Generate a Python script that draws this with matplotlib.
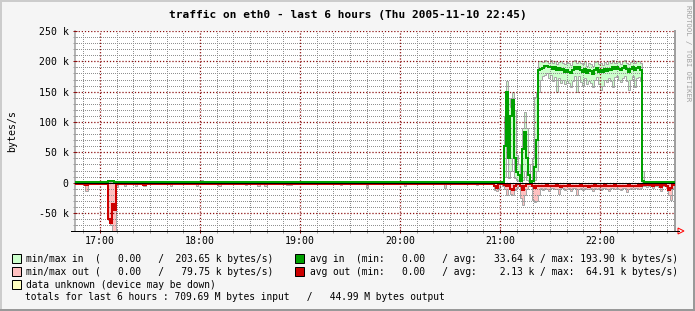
import matplotlib
matplotlib.use('Agg')
import matplotlib.pyplot as plt
import numpy as np
from matplotlib.patches import Rectangle, Polygon
from matplotlib.lines import Line2D
from matplotlib.ticker import FixedLocator, FixedFormatter

plt.rcParams['font.family'] = 'DejaVu Sans Mono'
plt.rcParams['axes.unicode_minus'] = False

# ---- data (time in hours, rates in k bytes/s) ----
# quiet part 16:45 - 20:56 : breakpoints
quiet_t = [16.75, 16.85, 16.88, 17.08, 17.10, 17.12, 17.14, 17.16, 17.18, 17.24,
           17.26, 17.35, 17.37, 17.43, 17.46, 17.70, 17.72, 17.96, 17.98, 18.00,
           18.03, 18.18, 18.21, 18.45, 18.47, 18.57, 18.60, 18.64, 18.67, 18.86,
           18.92, 19.40, 19.42, 19.66, 19.68, 20.04, 20.06, 20.44, 20.46, 20.76,
           20.78]
quiet_in_avg = [1.5, 1.5, 1.5, 3, 3, 2, 1.5, 1.5, 1.5, 1.5,
                1.5, 1.5, 1.5, 1.5, 1.5, 1.5, 1.5, 1.5, 1.5, 1.5,
                1.5, 1.5, 1.5, 1.5, 1.5, 1.5, 1.5, 1.5, 1.5, 1.5,
                1.5, 1.5, 1.5, 1.5, 1.5, 1.5, 1.5, 1.5, 1.5, 1.5,
                1.5]
quiet_in_max = [2.5, 2.5, 2.5, 4, 5, 4, 2.5, 2.5, 2.5, 2.5,
                2.5, 2.5, 2.5, 2.5, 2.5, 2.5, 2.5, 2.5, 2.5, 4,
                2.5, 2.5, 2.5, 2.5, 2.5, 2.5, 2.5, 2.5, 2.5, 2.5,
                2.5, 2.5, 2.5, 2.5, 2.5, 2.5, 2.5, 2.5, 2.5, 2.5,
                2.5]
quiet_in_min = [0, 0.5, 0.5, 1, 1, 1, 0.5, 0.5, 0.5, 0.5,
                0.5, 0.5, 0.5, 0.5, 0.5, 0.5, 0.5, 0.5, 0.5, 0.5,
                0.5, 0.5, 0.5, 0.5, 0.5, 0.5, 0.5, 0.5, 0.5, 0.5,
                0.5, 0.5, 0.5, 0.5, 0.5, 0.5, 0.5, 0.5, 0.5, 0.5,
                0.5]
quiet_out_avg = [1.5, 4, 1.5, 60, 66, 35, 45, 3, 1.5, 1.5,
                 1.5, 1.5, 1.5, 4, 1.5, 1.5, 1.5, 1.5, 1.5, 1.5,
                 1.5, 1.5, 1.5, 1.5, 1.5, 3, 1.5, 1.5, 1.5, 1.5,
                 1.5, 1.5, 1.5, 1.5, 1.5, 1.5, 1.5, 1.5, 1.5, 1.5,
                 1.5]
quiet_out_max = [2.5, 13, 2.5, 62, 70, 80, 80, 7, 2.5, 5,
                 2.5, 5, 2.5, 6, 2.5, 5, 2.5, 5, 2.5, 2.5,
                 2.5, 5, 2.5, 4, 2.5, 5, 2.5, 5, 2.5, 4,
                 2.5, 4, 2.5, 9, 2.5, 5, 2.5, 8, 2.5, 4,
                 2.5]

# active part from 20:56 on, one sample every 0.02 h
active_start = 20.94
act_in_avg = [1.5, 1.5, 1.5, 1.5, 1.5, 60, 149, 40, 110, 137,
              40, 18, 12, 2, 55, 84, 40, 12, 1.5, 2,
              25, 70, 185,
              188, 189, 192, 193, 190, 191, 188, 190, 186, 189,
              185, 188, 182, 186, 183, 180, 185, 190, 187, 191,
              186, 183, 188, 181, 186, 184, 179, 185, 189, 183,
              186, 182, 187, 184, 188, 185, 190, 187, 191, 188,
              185, 189, 192, 187, 183, 188, 191, 186, 189, 190,
              186,
              3,
              1.5, 1.5, 1.5, 1.5, 1.5, 1.5, 1.5, 1.5, 1.5, 1.5,
              1.5, 1.5, 1.5, 1.5, 1.5, 1.5]
act_in_max = [2.5, 2.5, 2.5, 2.5, 3, 110, 167, 140, 125, 149,
              120, 45, 30, 8, 90, 117, 90, 30, 3, 40,
              142, 150, 200,
              201, 199, 203, 200, 198, 202, 197, 200, 196, 199,
              201, 198, 195, 199, 197, 194, 200, 202, 198, 201,
              197, 195, 200, 193, 198, 196, 192, 199, 201, 195,
              197, 194, 199, 196, 200, 198, 202, 197, 201, 199,
              196, 200, 203, 198, 195, 199, 202, 197, 200, 201,
              197,
              20,
              2.5, 2.5, 2.5, 2.5, 2.5, 2.5, 2.5, 2.5, 2.5, 2.5,
              2.5, 2.5, 2.5, 2.5, 2.5, 2.5]
act_in_min = [0.5, 0.5, 0.5, 0.5, 0.5, 10, 60, 8, 20, 40,
              8, 5, 3, 0, 5, 20, 5, 2, 0, 0,
              5, 20, 150,
              170, 176, 178, 180, 172, 178, 168, 174, 150, 172,
              165, 170, 162, 168, 164, 158, 168, 175, 150, 176,
              166, 160, 172, 162, 168, 165, 158, 170, 174, 162,
              153, 160, 170, 166, 172, 168, 158, 174, 176, 170,
              166, 172, 176, 168, 153, 170, 175, 157, 172, 174,
              168,
              0,
              0.5, 0.5, 0.5, 0.5, 0.5, 0.5, 0.5, 0.5, 0.5, 0.5,
              0.5, 0.5, 0.5, 0.5, 0.5, 0.5]
act_out_avg = [5, 8, 3, 1.5, 2, 4, 6, 3, 10, 12,
               5, 3, 2, 6, 12, 6, 3, 2, 2, 6,
               8, 6, 5,
               5, 6, 5, 4, 6, 5, 5, 6, 4, 5,
               7, 5, 6, 5, 4, 6, 5, 5, 6, 5,
               4, 6, 5, 5, 7, 6, 5, 4, 5, 6,
               5, 5, 4, 6, 5, 5, 6, 4, 5, 6,
               5, 5, 6, 5, 4, 5, 6, 5, 5, 4,
               5,
               3,
               4, 4, 3, 4, 5, 4, 3, 4, 7, 3,
               4, 5, 12, 8, 4, 3]
act_out_max = [12, 14, 8, 3, 5, 10, 21, 10, 18, 21,
               12, 8, 6, 25, 37, 20, 10, 6, 5, 28,
               32, 30, 20,
               9, 12, 8, 10, 14, 9, 8, 11, 10, 18,
               9, 8, 12, 10, 9, 13, 8, 9, 20, 10,
               9, 12, 8, 11, 10, 9, 14, 8, 10, 9,
               12, 9, 8, 10, 13, 9, 8, 11, 9, 10,
               12, 8, 9, 15, 10, 9, 11, 8, 9, 10,
               9,
               6,
               6, 7, 5, 6, 9, 6, 5, 7, 14, 5,
               6, 9, 20, 29, 8, 6]
end_time = 22.75

hour_ticks = [17, 18, 19, 20, 21, 22]
hour_labels = ['17:00', '18:00', '19:00', '20:00', '21:00', '22:00']
y_ticks = [-50, 0, 50, 100, 150, 200, 250]
y_labels = ['-50 k', '0', '50 k', '100 k', '150 k', '200 k', '250 k']

title = 'traffic on eth0 - last 6 hours (Thu 2005-11-10 22:45)'
legend_rows = [
    ('#ccffcc', 'min/max in  (   0.00   /  203.65 k bytes/s)',
     '#00a000', 'avg in  (min:   0.00   / avg:   33.64 k / max: 193.90 k bytes/s)'),
    ('#ffc0c0', 'min/max out (   0.00   /   79.75 k bytes/s)',
     '#cc0000', 'avg out (min:   0.00   / avg:    2.13 k / max:  64.91 k bytes/s)'),
]
unknown_label = 'data unknown (device may be down)'
totals = 'totals for last 6 hours : 709.69 M bytes input   /   44.99 M bytes output'

# ---- assemble series ----
act_t = active_start + 0.02 * np.arange(len(act_in_avg))
edges = np.concatenate([quiet_t, act_t, [end_time]])
in_avg = np.array(quiet_in_avg + act_in_avg)
in_max = np.array(quiet_in_max + act_in_max)
in_min = np.array(quiet_in_min + act_in_min)
out_avg = np.array(quiet_out_avg + act_out_avg)
out_max = np.array(quiet_out_max + act_out_max)
out_min = np.zeros_like(out_max)

W, H = 695, 311
fig = plt.figure(figsize=(W / 100, H / 100), dpi=100, facecolor='#f5f5f5')


def fx(x):
    return x / W


def fy(y):
    return 1 - y / H


ax = fig.add_axes([fx(75), fy(231), 600 / W, 200 / H])
ax.set_facecolor('white')

# min/max bands
ax.stairs(in_max, edges, baseline=in_min, fill=True, color='#ccffcc', lw=0, zorder=1)
ax.stairs(-out_min, edges, baseline=-out_max, fill=True, color='#ffc0c0', lw=0, zorder=1)
for v in (in_max, in_min, -out_max):
    ax.stairs(v, edges, baseline=None, color='#a8a8a8', lw=0.72, zorder=2)

# averages
ax.stairs(in_avg, edges, baseline=None, color='#00a000', lw=1.44, zorder=3)
ax.stairs(-out_avg, edges, baseline=None, color='#cc0000', lw=1.44, zorder=3.1)
ax.axhline(0, color='black', lw=0.72, zorder=4)

ax.set_xlim(16.75, 22.75)
ax.set_ylim(-79.7, 250)

# minor grid every 10 min / 10 k, skipping the major positions
x_minor = [h + m / 60 for h in range(16, 23) for m in (10, 20, 30, 40, 50)
           if 16.75 < h + m / 60 < 22.75]
y_minor = [v for v in range(-70, 250, 10) if v % 50 != 0]

ax.xaxis.set_major_locator(FixedLocator(hour_ticks))
ax.xaxis.set_major_formatter(FixedFormatter(hour_labels))
ax.xaxis.set_minor_locator(FixedLocator(x_minor))
ax.yaxis.set_major_locator(FixedLocator(y_ticks))
ax.yaxis.set_major_formatter(FixedFormatter(y_labels))
ax.yaxis.set_minor_locator(FixedLocator(y_minor))

ax.set_axisbelow(False)
ax.grid(which='minor', color='#909090', ls=(0, (1, 2)), lw=0.72, antialiased=False)
ax.grid(which='major', color='#8c1010', ls=(0, (1, 1.5)), lw=0.9)

ax.tick_params(which='both', direction='inout', length=2.9, width=0.72, labelsize=7.1)
ax.tick_params(which='major', color='#8c1010')
ax.tick_params(which='minor', color='#a0a0a0')
ax.tick_params(axis='y', pad=3.2)
ax.tick_params(axis='x', pad=1.8)

for s in ('top', 'bottom'):
    ax.spines[s].set_visible(False)
ax.spines['left'].set_color('#a0a0a0')
ax.spines['left'].set_linewidth(1.1)
ax.spines['right'].set_color('#a0a0a0')
ax.spines['right'].set_linewidth(1.44)

# x axis line with arrow
fig.add_artist(Line2D([fx(71), fx(679)], [fy(231), fy(231)], color='black', lw=0.72))
fig.add_artist(Polygon([(fx(678), fy(228)), (fx(684), fy(231)), (fx(678), fy(234))],
                       closed=True, fill=False, ec='red', lw=0.72, transform=fig.transFigure))

# texts
fs = 6.95
fig.text(fx(347.5), fy(14.5), title, ha='center', va='center', fontsize=8, fontweight='bold')
fig.text(fx(12.5), fy(131.5), 'bytes/s', rotation=90, ha='center', va='center', fontsize=7.1)
fig.text(fx(688), fy(5), 'RRDTOOL / TOBI OETIKER', rotation=270, ha='center', va='top',
         fontsize=5.2, color='#a0a0a0')

row_y = [258.5, 271.7]
for yy, (c1, t1, c2, t2) in zip(row_y, legend_rows):
    fig.add_artist(Rectangle((fx(12), fy(yy + 4.5)), 9 / W, 9 / H, transform=fig.transFigure,
                             fc=c1, ec='black', lw=0.72))
    fig.text(fx(26.5), fy(yy), t1, ha='left', va='center', fontsize=fs)
    fig.add_artist(Rectangle((fx(295), fy(yy + 4.5)), 9 / W, 9 / H, transform=fig.transFigure,
                             fc=c2, ec='black', lw=0.72))
    fig.text(fx(310), fy(yy), t2, ha='left', va='center', fontsize=fs)

fig.add_artist(Rectangle((fx(12), fy(289)), 9 / W, 9 / H, transform=fig.transFigure,
                         fc='#ffffc0', ec='black', lw=0.72))
fig.text(fx(26.5), fy(284.5), unknown_label, ha='left', va='center', fontsize=fs)
fig.text(fx(25), fy(297.5), totals, ha='left', va='center', fontsize=fs)

# outer 3d border
fig.add_artist(Line2D([0, 1], [fy(1), fy(1)], color='#cccccc', lw=1.44))
fig.add_artist(Line2D([fx(1), fx(1)], [0, 1], color='#cccccc', lw=1.44))
fig.add_artist(Line2D([0, 1], [fy(310), fy(310)], color='#999999', lw=1.44))
fig.add_artist(Line2D([fx(694), fx(694)], [0, 1], color='#999999', lw=1.44))

fig.savefig('out.png', dpi=100, facecolor=fig.get_facecolor())
